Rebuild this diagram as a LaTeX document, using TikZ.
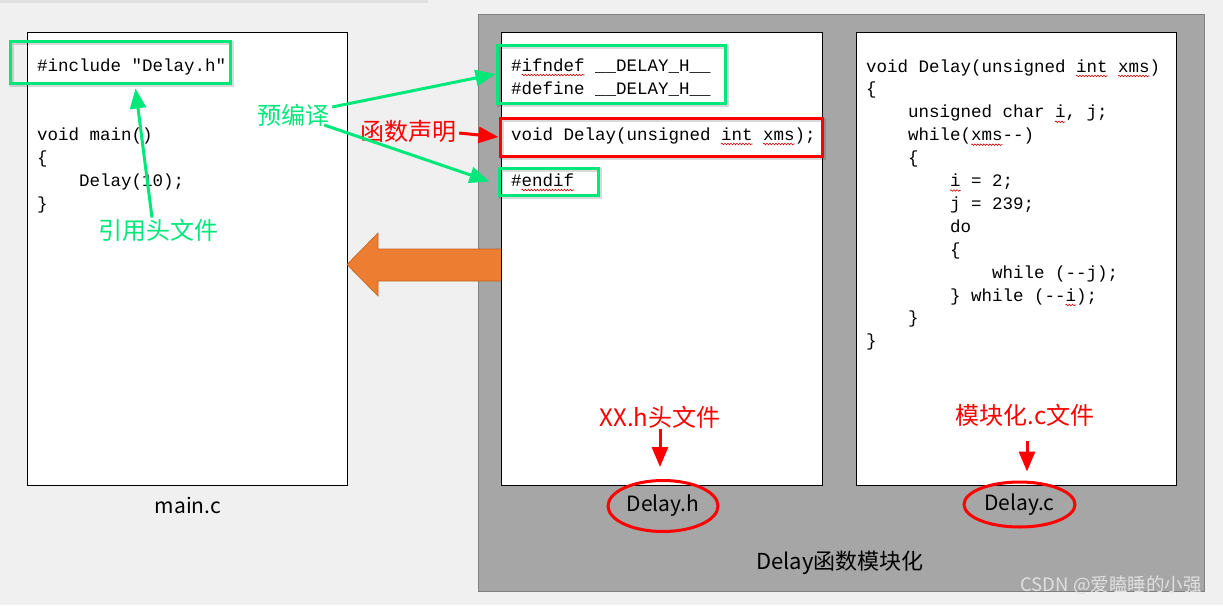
\documentclass[tikz,border=0pt]{standalone}
\usepackage{fontspec}
\setmonofont{Liberation Mono}
\newfontfamily\cjk{Noto Sans CJK SC}
\usetikzlibrary{arrows.meta, positioning, shapes.geometric, calc, decorations.pathmorphing}

\definecolor{pagebg}{RGB}{240,240,240}
\definecolor{groupgray}{RGB}{166,166,166}
\definecolor{hlgreen}{RGB}{0,232,122}
\definecolor{hlred}{RGB}{255,0,0}
\definecolor{blockorange}{RGB}{237,125,49}

\newcommand{\codefont}{\ttfamily\fontsize{17.5}{23}\selectfont}
% red spell-check wave under characters #2 .. #2+#3 of a code line
\newcommand{\squig}[3]{\draw[squig] ($(#1.base west)+(#2*10.5,4)$) -- ++(#3*10.5,0);}

\begin{document}
\begin{tikzpicture}[
  x=1pt, y=-1pt, font=\cjk,
  panel/.style={draw=black, line width=0.8pt, fill=white, inner sep=0pt},
  code/.style={font=\codefont, inner sep=0pt, anchor=base west},
  hlbox/.style={
    draw=#1, line width=3pt, inner sep=0pt,
    preaction={draw=black, draw opacity=0.15, line width=4pt,
      transform canvas={xshift=1.5pt, yshift=-1.5pt}}
  },
  tag/.style={font=\cjk\fontsize{24}{28}\selectfont, inner sep=1pt, text=#1},
  fname/.style={font=\cjk\fontsize{21}{25}\selectfont, inner sep=1pt},
  ring/.style={ellipse, draw=hlred, line width=3pt, inner sep=0pt},
  link/.style={draw=#1, line width=3pt, -{Triangle[length=20pt, width=16pt]}},
  squig/.style={draw=red!80!black, line width=0.6pt, decorate,
    decoration={snake, amplitude=0.8pt, segment length=3pt}}
]
  \fill[pagebg] (0,0) rectangle (1223,605);
  \fill[black!12] (0,0) rectangle (428,2.5);
  \useasboundingbox (0,0) rectangle (1223,605);

  % panels
  \node[draw=black!50, fill=groupgray, line width=0.8pt, inner sep=0pt,
        minimum width=726, minimum height=577] (group) at (841,302.5) {};
  \node[panel, minimum width=320, minimum height=453] (mainc) at (187,258.5) {};
  \fill[blockorange, draw=blockorange!80!black, line width=0.6pt]
    (502,249) -- (378,249) -- (378,233) -- (347,264.5) -- (378,296) -- (378,281) -- (502,281) -- cycle;
  \node[panel, minimum width=321, minimum height=453] (hpanel) at (661.5,258.5) {};
  \node[panel, minimum width=320, minimum height=453] (cpanel) at (1016,258.5) {};

  % main.c
  \node[code] (m1) at (37,71) {\#include "Delay.h"};
  \node[code] (m2) at (37,140) {void main()};
  \node[code] (m3) at (37,163) {\{};
  \node[code] (m4) at (37,186) {\hspace*{2.4em}Delay(10);};
  \node[code] (m5) at (37,209) {\}};

  % Delay.h
  \node[code] (h1) at (511,71) {\#ifndef \_\_DELAY\_H\_\_};
  \node[code] (h2) at (511,94) {\#define \_\_DELAY\_H\_\_};
  \node[code] (h3) at (511,140) {void Delay(unsigned int xms);};
  \node[code] (h4) at (511,186) {\#endif};

  % Delay.c
  \node[code] (c1) at (866,72) {void Delay(unsigned int xms)};
  \node[code] (c2) at (866,94.9) {\{};
  \node[code] (c3) at (866,117.8) {\hspace*{2.4em}unsigned char i, j;};
  \node[code] (c4) at (866,140.7) {\hspace*{2.4em}while(xms{-}{-})};
  \node[code] (c5) at (866,163.6) {\hspace*{2.4em}\{};
  \node[code] (c6) at (866,186.5) {\hspace*{4.8em}i = 2;};
  \node[code] (c7) at (866,209.4) {\hspace*{4.8em}j = 239;};
  \node[code] (c8) at (866,232.3) {\hspace*{4.8em}do};
  \node[code] (c9) at (866,255.2) {\hspace*{4.8em}\{};
  \node[code] (c10) at (866,278.1) {\hspace*{7.2em}while ({-}{-}j);};
  \node[code] (c11) at (866,301) {\hspace*{4.8em}\} while ({-}{-}i);};
  \node[code] (c12) at (866,323.9) {\hspace*{2.4em}\}};
  \node[code] (c13) at (866,346.8) {\}};

  \squig{h1}{1}{6}
  \squig{h3}{20}{3}
  \squig{h3}{24}{3}
  \squig{h4}{1}{5}
  \squig{c1}{20}{3}
  \squig{c1}{24}{3}
  \squig{c3}{18}{1}
  \squig{c4}{10}{3}
  \squig{c6}{8}{1}
  \squig{c11}{19}{1}

  % highlight boxes
  \node[hlbox=hlgreen, minimum width=220, minimum height=42] (incbox) at (120,62) {};
  \node[hlbox=hlgreen, minimum width=228, minimum height=58] (defbox) at (611,74) {};
  \node[hlbox=hlred, minimum width=322, minimum height=38] (declbox) at (661,137) {};
  \node[hlbox=hlgreen, minimum width=99, minimum height=27] (endbox) at (548.5,181.5) {};

  % file names
  \node[fname] (mainname) at (188,505) {main.c};
  \node[fname, ring, minimum width=110, minimum height=51] (hname) at (663,506) {Delay.h};
  \node[fname, ring, minimum width=111, minimum height=45] (cname) at (1019.5,504.5) {Delay.c};
  \node[font=\cjk\fontsize{22}{26}\selectfont, inner sep=1pt] (groupname) at (840,563) {Delay函数模块化};
  \node[font=\cjk\fontsize{18.5}{22}\selectfont, text=white!88!black, inner sep=0pt] (mark) at (1111,585)
    {CSDN @爱瞌睡的小强};

  % callouts
  \node[tag=hlgreen] (pre) at (293,115) {预编译};
  \node[tag=hlgreen] (inctag) at (158,230) {引用头文件};
  \node[tag=hlred] (decltag) at (408,131) {函数声明};
  \node[tag=hlred] (htag) at (660,417) {XX.h头文件};
  \node[tag=hlred] (ctag) at (1025,415) {模块化.c文件};

  \draw[link=hlgreen] ([shift={(2,-8)}]pre.east) -- (defbox.west);
  \draw[link=hlgreen] ([shift={(-6,10)}]pre.east) -- ([xshift=-8pt]endbox.west);
  \draw[link=hlred] ([shift={(2,2)}]decltag.east) -- (declbox.west);
  \draw[link=hlgreen, shorten >=4pt] ([xshift=-6pt]inctag.north) -- ([xshift=15pt]incbox.south);
  \draw[link=hlred, shorten >=12pt] (htag.south) -- (htag.south |- hname.north);
  \draw[link=hlred, shorten <=14pt, shorten >=9pt] ([xshift=2pt]ctag.south) -- ([xshift=2pt]ctag.south |- cname.north);
\end{tikzpicture}
\end{document}
